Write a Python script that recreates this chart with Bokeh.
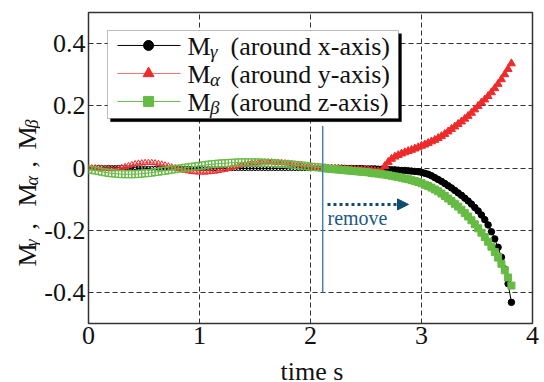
from bokeh.plotting import figure
from bokeh.layouts import row, column
from bokeh.models import FixedTicker, BoxAnnotation, Label, Arrow, NormalHead
from bokeh.core.properties import value
from bokeh.embed import file_html
from bokeh.resources import INLINE
import math

# ---------------- data ----------------
# time samples before the removal (hollow markers)
t_before = [0.00, 0.03, 0.06, 0.09, 0.12, 0.15, 0.18, 0.21, 0.24, 0.27,
            0.30, 0.33, 0.36, 0.39, 0.42, 0.45, 0.48, 0.51, 0.54, 0.57,
            0.60, 0.63, 0.66, 0.69, 0.72, 0.75, 0.78, 0.81, 0.84, 0.87,
            0.90, 0.93, 0.96, 0.99, 1.02, 1.05, 1.08, 1.11, 1.14, 1.17,
            1.20, 1.23, 1.26, 1.29, 1.32, 1.35, 1.38, 1.41, 1.44, 1.47,
            1.50, 1.53, 1.56, 1.59, 1.62, 1.65, 1.68, 1.71, 1.74, 1.77,
            1.80, 1.83, 1.86, 1.89, 1.92, 1.95, 1.98, 2.01, 2.04, 2.07,
            2.10]
# time samples after the removal (filled markers)
t_after = [2.13, 2.16, 2.19, 2.22, 2.25, 2.28, 2.31, 2.34, 2.37, 2.40,
           2.43, 2.46, 2.49, 2.52, 2.55, 2.58, 2.61, 2.64, 2.67, 2.70,
           2.73, 2.76, 2.79, 2.82, 2.85, 2.88, 2.91, 2.94, 2.97, 3.00,
           3.03, 3.06, 3.09, 3.12, 3.15, 3.18, 3.21, 3.24, 3.27, 3.30,
           3.33, 3.36, 3.39, 3.42, 3.45, 3.48, 3.51, 3.54, 3.57, 3.60,
           3.63, 3.66, 3.69, 3.72, 3.75, 3.78, 3.81]

# M_gamma (around x-axis)
m_gamma_before = [0.000, 0.001, 0.001, 0.002, 0.002, 0.002, 0.002, 0.002, 0.002, 0.002,
                  0.002, 0.001, 0.001, 0.001, 0.001, 0.000, 0.000, 0.000, -0.001, -0.001,
                  -0.001, -0.001, -0.001, -0.001, -0.001, -0.001, -0.001, -0.001, -0.001, -0.001,
                  -0.001, -0.001, -0.002, -0.002, -0.002, -0.002, -0.002, -0.002, -0.002, -0.002,
                  -0.002, -0.002, -0.002, -0.002, -0.002, -0.002, -0.002, -0.002, -0.002, -0.002,
                  -0.002, -0.002, -0.002, -0.002, -0.002, -0.002, -0.002, -0.002, -0.002, -0.002,
                  -0.002, -0.002, -0.002, -0.002, -0.002, -0.002, -0.002, -0.002, -0.002, -0.002,
                  -0.001]
m_gamma_after = [-0.001, -0.001, -0.001, -0.001, -0.001, -0.001, -0.002, -0.002, -0.002, -0.002,
                 -0.002, -0.002, -0.003, -0.003, -0.003, -0.003, -0.004, -0.004, -0.005, -0.005,
                 -0.006, -0.006, -0.007, -0.008, -0.008, -0.009, -0.010, -0.011, -0.012, -0.014,
                 -0.017, -0.020, -0.025, -0.031, -0.037, -0.043, -0.050, -0.057, -0.064, -0.072,
                 -0.080, -0.088, -0.097, -0.106, -0.116, -0.127, -0.138, -0.151, -0.166, -0.183,
                 -0.205, -0.228, -0.255, -0.287, -0.325, -0.372, -0.432]

# M_alpha (around y-axis)
m_alpha_before = [0.000, 0.000, 0.000, -0.001, -0.001, -0.002, -0.003, -0.003, -0.003, -0.002,
                  0.001, 0.004, 0.007, 0.010, 0.013, 0.015, 0.016, 0.017, 0.017, 0.017,
                  0.016, 0.014, 0.012, 0.009, 0.006, 0.003, 0.000, -0.003, -0.006, -0.008,
                  -0.010, -0.012, -0.013, -0.014, -0.014, -0.014, -0.013, -0.012, -0.011, -0.009,
                  -0.007, -0.005, -0.002, 0.001, 0.004, 0.007, 0.010, 0.012, 0.014, 0.016,
                  0.017, 0.018, 0.019, 0.019, 0.019, 0.019, 0.018, 0.018, 0.017, 0.016,
                  0.015, 0.014, 0.012, 0.011, 0.009, 0.008, 0.006, 0.004, 0.003, 0.001,
                  0.000]
m_alpha_after = [-0.001, -0.002, -0.002, -0.003, -0.003, -0.004, -0.004, -0.005, -0.005, -0.006,
                 -0.006, -0.007, -0.007, -0.008, -0.009, -0.010, -0.011, -0.011, 0.006, 0.019,
                 0.029, 0.036, 0.041, 0.046, 0.050, 0.054, 0.058, 0.062, 0.066, 0.071,
                 0.075, 0.080, 0.085, 0.090, 0.096, 0.102, 0.109, 0.117, 0.125, 0.133,
                 0.141, 0.149, 0.158, 0.167, 0.177, 0.188, 0.199, 0.210, 0.220, 0.231,
                 0.243, 0.256, 0.270, 0.285, 0.301, 0.318, 0.336]

# M_beta (around z-axis)
m_beta_before = [-0.004, -0.006, -0.008, -0.010, -0.012, -0.014, -0.016, -0.017, -0.018, -0.019,
                 -0.020, -0.020, -0.020, -0.020, -0.020, -0.019, -0.018, -0.017, -0.016, -0.015,
                 -0.013, -0.012, -0.010, -0.009, -0.007, -0.005, -0.004, -0.002, -0.001, 0.001,
                 0.002, 0.004, 0.005, 0.007, 0.008, 0.009, 0.011, 0.012, 0.013, 0.014,
                 0.015, 0.015, 0.016, 0.017, 0.017, 0.018, 0.018, 0.018, 0.018, 0.018,
                 0.018, 0.018, 0.017, 0.017, 0.016, 0.016, 0.015, 0.014, 0.013, 0.013,
                 0.012, 0.011, 0.010, 0.009, 0.008, 0.007, 0.005, 0.004, 0.003, 0.002,
                 0.001]
m_beta_after = [-0.001, -0.002, -0.003, -0.004, -0.005, -0.006, -0.007, -0.008, -0.009, -0.010,
                -0.011, -0.012, -0.013, -0.014, -0.016, -0.017, -0.018, -0.020, -0.021, -0.023,
                -0.025, -0.027, -0.029, -0.031, -0.034, -0.036, -0.039, -0.042, -0.045, -0.049,
                -0.054, -0.058, -0.063, -0.069, -0.075, -0.082, -0.090, -0.098, -0.106, -0.115,
                -0.124, -0.134, -0.145, -0.156, -0.168, -0.181, -0.194, -0.208, -0.222, -0.237,
                -0.253, -0.270, -0.288, -0.308, -0.329, -0.352, -0.378]

x_ticks = [0, 1, 2, 3, 4]
x_tick_labels = ["0", "1", "2", "3", "4"]
y_ticks = [-0.4, -0.2, 0.0, 0.2, 0.4]
y_tick_labels = ["-0.4", "-0.2", "0", "0.2", "0.4"]
legend_names = ["M", "M", "M"]
legend_subs = ["\u03b3", "\u03b1", "\u03b2"]
legend_texts = ["(around x-axis)", "(around y-axis)", "(around z-axis)"]
x_label = "time s"
remove_time = 2.11
remove_line_top = 0.135
remove_line_bottom = -0.4
remove_text = "remove"

# ---------------- styles ----------------
FONT = "'Liberation Serif', serif"
TXT = "#111111"
BLACK = "#000000"
RED = "#ee2a2a"
RED_LINE = "#f07070"
GREEN = "#66bb44"
BLUE_LINE = "#4a82a8"
NAVY = "#0f4c72"

YLAB_W = 40
TOTAL_W = 544
TOTAL_H = 382
XLAB_H = 26
MAIN_W = TOTAL_W - YLAB_W
MAIN_H = TOTAL_H - XLAB_H

p = figure(width=MAIN_W, height=MAIN_H, x_range=(0, 4), y_range=(-0.5, 0.5),
           output_backend="svg", toolbar_location=None,
           min_border_left=88 - YLAB_W, min_border_right=12, min_border_top=12,
           min_border_bottom=MAIN_H - 323)
p.background_fill_color = "white"
p.border_fill_color = "white"
p.outline_line_color = "#333333"
p.outline_line_width = 1.5

for ax in (p.xaxis[0], p.yaxis[0]):
    ax.axis_line_color = None
    ax.major_tick_line_color = None
    ax.minor_tick_line_color = None
    ax.major_tick_in = 0
    ax.major_tick_out = 0
    ax.major_label_text_font = FONT
    ax.major_label_text_font_size = "26px"
    ax.major_label_text_color = TXT
p.xaxis.major_label_standoff = 3
p.yaxis.major_label_standoff = 3

p.xaxis.ticker = FixedTicker(ticks=x_ticks)
p.yaxis.ticker = FixedTicker(ticks=y_ticks)
p.xaxis.major_label_overrides = {t: l for t, l in zip(x_ticks, x_tick_labels)}
p.yaxis.major_label_overrides = {t: l for t, l in zip(y_ticks, y_tick_labels)}

p.xgrid.ticker = FixedTicker(ticks=x_ticks)
p.ygrid.ticker = FixedTicker(ticks=y_ticks)
for g in (p.xgrid[0], p.ygrid[0]):
    g.grid_line_color = "#333333"
    g.grid_line_dash = "5 3"
    g.grid_line_width = 1

# ---------------- data glyphs ----------------
t_all = t_before + t_after
series = [
    (m_gamma_before, m_gamma_after, BLACK, BLACK, "circle", 4, 6.5),
    (m_alpha_before, m_alpha_after, RED, RED_LINE, "triangle", 6, 8),
    (m_beta_before, m_beta_after, GREEN, GREEN, "square", 7, 7),
]
for yb, ya, col, lcol, mk, s_open, s_fill in series:
    p.line(t_all, yb + ya, line_color=lcol, line_width=1)
    p.scatter(t_before, yb, marker=mk, size=s_open, fill_color=None,
              line_color=col, line_width=1)
    p.scatter(t_after, ya, marker=mk, size=s_fill, fill_color=col,
              line_color=col, line_width=1)

# removal line, arrow and text
p.line([remove_time, remove_time], [remove_line_top, remove_line_bottom],
       line_color=BLUE_LINE, line_width=1.5)
p.add_layout(Arrow(end=NormalHead(size=11, fill_color=NAVY, line_color=NAVY),
                   x_start=2.153, y_start=-0.117, x_end=2.883, y_end=-0.117,
                   line_color=NAVY, line_width=3, line_dash="3 3"))
p.add_layout(Label(x=2.153, y=-0.160, text=remove_text, text_font=FONT,
                   text_baseline="alphabetic",
                   text_font_size="20px", text_color="#1b5a82"))

# ---------------- legend (manual) ----------------
p.add_layout(BoxAnnotation(left=0.198, right=2.820, top=0.432, bottom=0.149,
                           fill_color="black", fill_alpha=1.0, line_color="black"))
p.add_layout(BoxAnnotation(left=0.171, right=2.793, top=0.442, bottom=0.159,
                           fill_color="white", fill_alpha=1.0, line_color="#222222",
                           line_width=1))
row_marker_y = [0.394, 0.304, 0.214]
row_text_y = [0.391, 0.301, 0.211]
row_sub_y = [0.374, 0.284, 0.194]
for i, (yb, ya, col, lcol, mk, s_open, s_fill) in enumerate(series):
    yy = row_marker_y[i]
    p.line([0.261, 0.829], [yy, yy], line_color=lcol, line_width=1, level="overlay")
    p.scatter([0.541], [yy], marker=mk, size=10 if mk != "triangle" else 11,
              fill_color=col, line_color=col, level="overlay")
    p.add_layout(Label(x=0.892, y=row_text_y[i], text=legend_names[i], text_font=FONT,
                       text_baseline="alphabetic",
                       text_font_size="26px", text_color=TXT, level="overlay"))
    p.add_layout(Label(x=1.095, y=row_sub_y[i], text=legend_subs[i], text_font=FONT,
                       text_baseline="alphabetic", text_font_style="italic",
                       text_font_size="19px", text_color=TXT, level="overlay"))
    p.add_layout(Label(x=1.279, y=row_text_y[i], text=legend_texts[i], text_font=FONT,
                       text_baseline="alphabetic",
                       text_font_size="26px", text_color=TXT, level="overlay"))


def blank_fig(w, h):
    f = figure(width=w, height=h, x_range=(0, w), y_range=(0, h),
               x_axis_type=None, y_axis_type=None, title=None,
               output_backend="svg", toolbar_location=None,
               min_border_left=0, min_border_right=0, min_border_top=0, min_border_bottom=0)
    f.grid.visible = False
    f.outline_line_color = None
    f.background_fill_color = "white"
    f.border_fill_color = "white"
    return f


# ---------------- y axis label (left strip, pixel coords, text glyphs) ----------------
ylab = blank_fig(YLAB_W, TOTAL_H)
ang = math.pi / 2
ylab_big_text = ["M", ",", "M", ",", "M"]
ylab_big_x = [27, 27, 27, 27, 27]
ylab_big_y = [TOTAL_H - 266, TOTAL_H - 229, TOTAL_H - 206, TOTAL_H - 167, TOTAL_H - 149]
ylab_sub_x = [31, 31, 31]
ylab_sub_y = [TOTAL_H - 246, TOTAL_H - 185, TOTAL_H - 128]
ylab.text(x=ylab_big_x, y=ylab_big_y, text=ylab_big_text, angle=ang,
          text_font=value(FONT), text_font_size="26px", text_baseline="alphabetic",
          text_align="left", text_color=TXT)
ylab.text(x=ylab_sub_x, y=ylab_sub_y, text=legend_subs, angle=ang,
          text_font=value(FONT), text_font_size="18px", text_font_style="italic",
          text_baseline="alphabetic", text_align="left", text_color=TXT)

# ---------------- x axis label (bottom strip, pixel coords) ----------------
xlab = blank_fig(MAIN_W, XLAB_H)
xlab.text(x=[258 - YLAB_W], y=[11], text=[x_label], text_font=value(FONT),
          text_font_size="26px", text_align="left", text_baseline="alphabetic",
          text_color=TXT)

layout = row(ylab, column(p, xlab, spacing=0), spacing=0)
open("out.html", "w").write(file_html(layout, INLINE))
